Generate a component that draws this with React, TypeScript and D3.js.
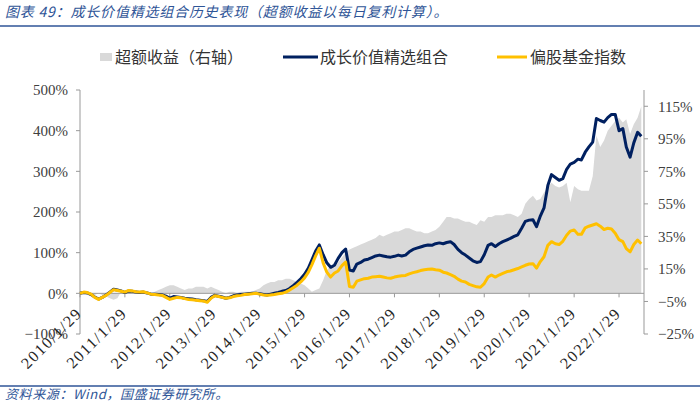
import React from "react";
import * as d3 from "d3";

// monthly points starting 2010/1/29
const startDate = new Date(2010, 0, 29);

const yearLabels = [
  "2010/1/29", "2011/1/29", "2012/1/29", "2013/1/29", "2014/1/29", "2015/1/29", "2016/1/29",
  "2017/1/29", "2018/1/29", "2019/1/29", "2020/1/29", "2021/1/29", "2022/1/29",
];

// 成长价值精选组合 (left axis, %)
const portfolio = [
  0, 2, 1, -3, -9, -14, -10, -4, 3, 10,
  8, 6, 2, 6, 5, 3, 2, 3, 1, -2,
  -2, -3, -4, -7, -12, -8, -9, -10, -12, -13,
  -14, -16, -17, -18, -20, -10, -5, -7, -9, -12,
  -10, -6, -4, -3, -2, -1, 0, 0, -1, -3,
  -4, -2, 0, 2, 5, 7, 12, 19, 27, 36,
  47, 62, 82, 104, 119, 95, 75, 64, 69, 86,
  100, 109, 57, 55, 72, 76, 82, 84, 88, 92,
  94, 92, 90, 89, 91, 94, 92, 94, 102, 108,
  111, 114, 117, 119, 118, 122, 124, 122, 125, 127,
  120, 108, 100, 94, 87, 80, 76, 78, 95, 118,
  122, 115, 122, 127, 131, 135, 140, 144, 160, 177,
  180, 181, 164, 190, 210, 265, 292, 285, 278, 282,
  305, 318, 322, 330, 328, 347, 360, 372, 430, 425,
  421, 432, 440, 440, 400, 405, 360, 335, 370, 396,
  386,
];

// 偏股基金指数 (left axis, %)
const fundIndex = [
  0, 3, 2, -2, -10, -15, -10, -5, 2, 9,
  7, 5, 3, 7, 6, 4, 3, 4, 1, -2,
  -3, -4, -5, -10, -15, -12, -10, -11, -13, -15,
  -16, -17, -18, -19, -22, -12, -6, -8, -10, -12,
  -11, -8, -6, -5, -3, -2, -1, 0, -2, -4,
  -5, -4, -3, -1, 0, 3, 8, 14, 20, 28,
  38, 52, 70, 92, 111, 75, 52, 40, 50, 55,
  68, 77, 17, 15, 30, 33, 36, 37, 40, 41,
  42, 40, 38, 37, 40, 42, 43, 44, 48, 51,
  53, 56, 58, 59, 60, 58, 57, 52, 50, 46,
  42, 35, 30, 28, 22, 19, 16, 15, 24, 40,
  45, 40, 45, 49, 53, 55, 58, 61, 65, 69,
  72, 73, 62, 78, 90, 118, 127, 122, 120, 128,
  143, 153, 156, 145, 145, 161, 165, 168, 171, 165,
  157, 160, 158, 148, 132, 127, 110, 102, 120, 131,
  122,
];

// 超额收益 (right axis, %)
const excess = [
  0, 0, 0, -1, -1, 0, -1, -2, -3, -4,
  -3, 1, 2, 1, 0, 0, 0, 1, 0, 0,
  1, 2, 3, 4, 5, 5, 4, 3, 2, 3,
  3, 4, 4, 4, 3, 4, 3, 2, 1, 0,
  1, 1, 0, 1, 1, 1, 1, 2, 3, 5,
  6, 7, 7, 8, 8, 9, 9, 8, 7, 6,
  5, 3, 1, 2, 3, 8, 14, 17, 16, 19,
  22, 25, 27, 28, 29, 30, 31, 32, 33, 34,
  36, 35, 36, 37, 38, 38, 39, 40, 40, 39,
  38, 38, 37, 37, 38, 39, 41, 44, 47, 47,
  46, 46, 45, 44, 44, 43, 42, 45, 44, 47,
  47, 48, 48, 48, 49, 49, 48, 47, 49, 55,
  58, 60, 57, 58, 62, 65, 68, 66, 65, 66,
  68, 56, 66, 64, 63, 63, 63, 72, 97, 90,
  94, 100, 103, 106, 108, 105, 107, 98, 104, 108,
  115,
];

const leftTicks = [-100, 0, 100, 200, 300, 400, 500];
const rightTicks = [-25, -5, 15, 35, 55, 75, 95, 115];

const legendItems = ["超额收益（右轴）", "成长价值精选组合", "偏股基金指数"];

const BLUE = "#002060";
const YELLOW = "#FFC000";
const GREY = "#D9D9D9";
const TITLE = "#2F5597";

const pct = (v: number) => (v < 0 ? "\u2212" + Math.abs(v) : String(v)) + "%";

export default function App() {
  const W = 700, H = 405;
  const left = 80, right = 644, top = 90, bottom = 334;

  const dates = portfolio.map((_, i) => d3.timeMonth.offset(startDate, i));
  const tickDates = yearLabels.map((_, i) => d3.timeYear.offset(startDate, i));

  const x = d3.scaleTime().domain([startDate, new Date(2022, 7, 20)]).range([left, right]);
  const yL = d3.scaleLinear().domain([-100, 500]).range([bottom, top]);
  const yR = d3.scaleLinear().domain([-25, 125]).range([bottom, top]);

  const area = d3.area<number>()
    .x((_, i) => x(dates[i]))
    .y0(yR(0))
    .y1(d => yR(d));
  const line = d3.line<number>()
    .x((_, i) => x(dates[i]))
    .y(d => yL(d));

  const zeroY = yL(0);
  const cjk = "'Noto Sans CJK SC', sans-serif";
  const num = "'Liberation Serif', serif";

  return (
    <svg width={W} height={H} style={{ position: "absolute", left: 0, top: 0, background: "#fff" }}>
      <text x={5} y={17} fontFamily={cjk} fontSize={14} letterSpacing={0.8} fontStyle="italic" fill={TITLE}>
        图表 49：成长价值精选组合历史表现（超额收益以每日复利计算）。
      </text>
      <line x1={0} x2={W} y1={26} y2={26} stroke={TITLE} strokeWidth={1.5} />

      {/* legend */}
      <rect x={100} y={53} width={12} height={8} fill={GREY} />
      <text x={115} y={63} fontFamily={cjk} fontSize={16} fill="#333">{legendItems[0]}</text>
      <line x1={283} x2={318} y1={57} y2={57} stroke={BLUE} strokeWidth={3} />
      <text x={320} y={63} fontFamily={cjk} fontSize={16} fill="#333">{legendItems[1]}</text>
      <line x1={497} x2={527} y1={57} y2={57} stroke={YELLOW} strokeWidth={3} />
      <text x={530} y={63} fontFamily={cjk} fontSize={16} fill="#333">{legendItems[2]}</text>

      <path d={area(excess) ?? ""} fill={GREY} />

      {/* axes */}
      <line x1={left} x2={left} y1={top} y2={bottom} stroke="#999" />
      {leftTicks.map(t => (
        <g key={t}>
          <line x1={left - 4} x2={left} y1={yL(t)} y2={yL(t)} stroke="#999" />
          <text x={left - 12} y={yL(t)} dy="0.35em" textAnchor="end" fontFamily={num} fontSize={15} fill="#404040">{pct(t)}</text>
        </g>
      ))}
      <line x1={right} x2={right} y1={top} y2={bottom} stroke="#999" />
      {rightTicks.map(t => (
        <g key={t}>
          <line x1={right} x2={right + 4} y1={yR(t)} y2={yR(t)} stroke="#999" />
          <text x={right + 14} y={yR(t)} dy="0.35em" fontFamily={num} fontSize={15} fill="#404040">{pct(t)}</text>
        </g>
      ))}
      <line x1={left} x2={right} y1={zeroY} y2={zeroY} stroke="#999" />
      {tickDates.map((d, i) => (
        <g key={yearLabels[i]}>
          <line x1={x(d)} x2={x(d)} y1={zeroY} y2={zeroY + 4} stroke="#999" />
          <text transform={`translate(${x(d) + 3},${zeroY + 21}) rotate(-45)`} textAnchor="end" fontFamily={num} fontSize={16} letterSpacing={1.5} fill="#262626">{yearLabels[i]}</text>
        </g>
      ))}

      <path d={line(portfolio) ?? ""} fill="none" stroke={BLUE} strokeWidth={3} strokeLinejoin="round" />
      <path d={line(fundIndex) ?? ""} fill="none" stroke={YELLOW} strokeWidth={3} strokeLinejoin="round" />

      <line x1={0} x2={W} y1={386} y2={386} stroke={TITLE} strokeWidth={1.5} />
      <text x={5} y={399} fontFamily={cjk} fontSize={13} letterSpacing={0.6} fontStyle="italic" fill={TITLE}>
        资料来源：Wind，国盛证券研究所。
      </text>
    </svg>
  );
}
